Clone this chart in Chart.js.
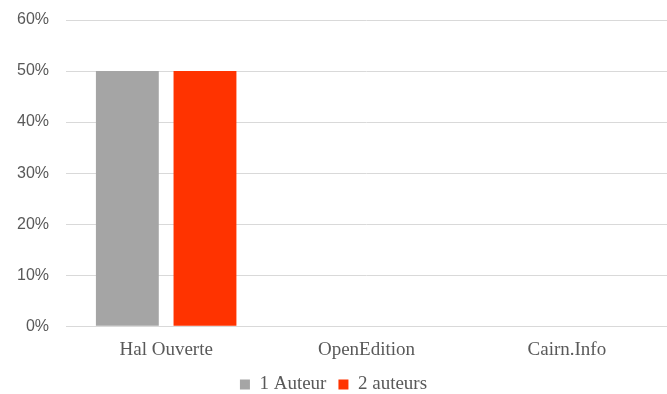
<!DOCTYPE html>
<html>
<head>
<meta charset="utf-8">
<script src="https://cdn.jsdelivr.net/npm/chart.js@4/dist/chart.umd.min.js"></script>
<style>
    html, body { margin: 0; padding: 0; background: #fff; }
    #wrap { width: 667px; height: 394px; }
</style>
</head>
<body>
<div id="wrap"><canvas id="chart"></canvas></div>
<script>
const categories = ["Hal Ouverte", "OpenEdition", "Cairn.Info"];
const unAuteur = [50, 0, 0];
const deuxAuteurs = [50, 0, 0];
const seriesNames = ["1 Auteur", "2 auteurs"];
const yTicks = [0, 10, 20, 30, 40, 50, 60];

const police = "'Liberation Serif', 'Times New Roman', serif";
const gris = "#595959";

const ctx = document.getElementById("chart").getContext("2d");
new Chart(ctx, {
    type: "bar",
    data: {
        labels: categories,
        datasets: [
            { label: seriesNames[0], data: unAuteur, backgroundColor: "#a5a5a5" },
            { label: seriesNames[1], data: deuxAuteurs, backgroundColor: "#ff3300" }
        ]
    },
    options: {
        responsive: true,
        maintainAspectRatio: false,
        animation: false,
        categoryPercentage: 0.775,
        barPercentage: 0.81,
        layout: { padding: { top: 20, right: 0, bottom: -10, left: 0 } },
        plugins: {
            legend: {
                position: "bottom",
                labels: {
                    boxWidth: 10,
                    boxHeight: 10,
                    padding: 12,
                    color: gris,
                    font: { family: police, size: 19 }
                }
            },
            tooltip: { enabled: false }
        },
        scales: {
            x: {
                afterFit: function (scale) { scale.height -= 10; },
                grid: { display: false, drawTicks: false },
                border: { color: "#d9d9d9" },
                ticks: { color: gris, padding: 12, font: { family: police, size: 19 } }
            },
            y: {
                min: yTicks[0],
                max: yTicks[yTicks.length - 1],
                afterFit: function (scale) {
                    scale.width = 66;
                    scale.paddingTop = 0;
                    scale.paddingBottom = 0;
                },
                grid: { color: "#d9d9d9", drawTicks: false },
                border: { display: false },
                ticks: {
                    stepSize: 10,
                    padding: 17,
                    color: gris,
                    font: { family: "'Liberation Sans', Arial, sans-serif", size: 16 },
                    callback: function (v) { return v + "%"; }
                }
            }
        }
    }
});
</script>
</body>
</html>
